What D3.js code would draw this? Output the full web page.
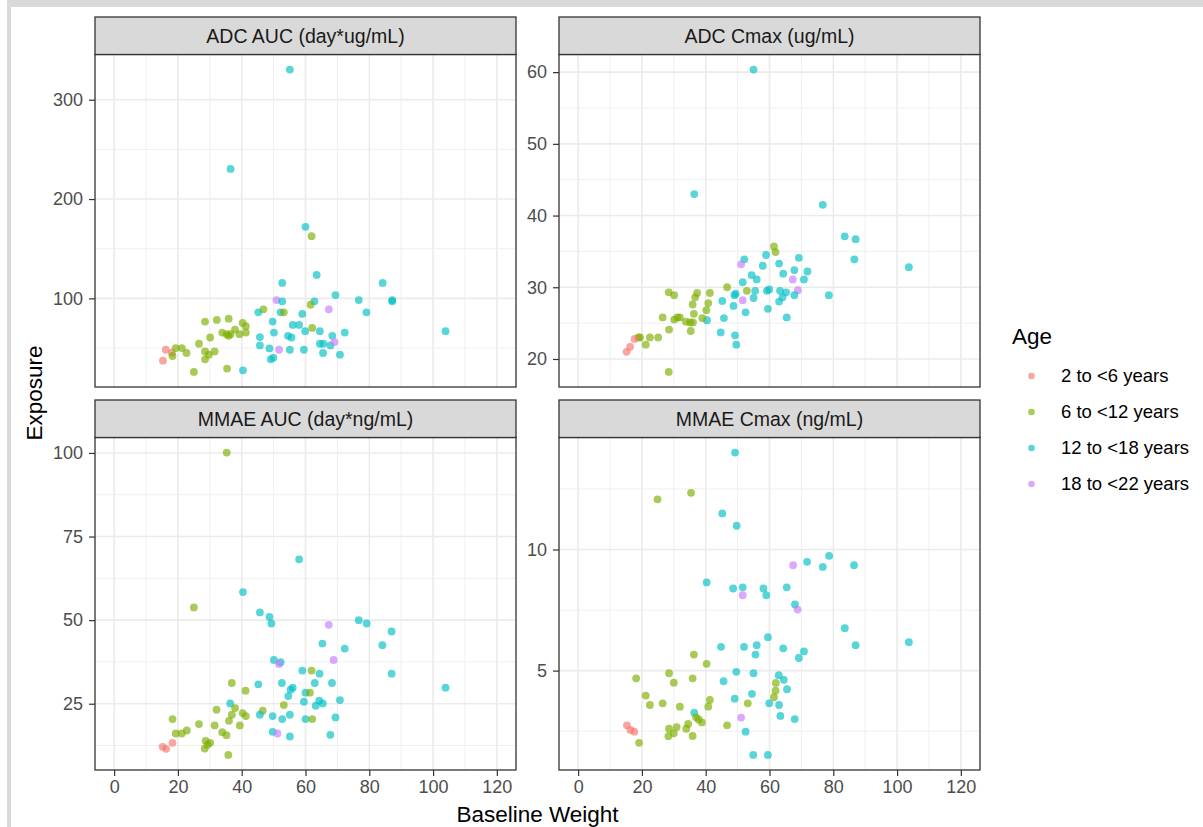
<!DOCTYPE html>
<html>
<head>
<meta charset="utf-8">
<script src="https://cdn.jsdelivr.net/npm/d3@7"></script>
<style>
  body { margin: 0; background: #ffffff; }
  svg { display: block; font-family: "Liberation Sans", Arial, sans-serif; }
</style>
</head>
<body>
<svg id="chart" width="1203" height="827"></svg>
<script>
// Age groups and their default hue colours
const ageGroups = ["2 to <6 years", "6 to <12 years", "12 to <18 years", "18 to <22 years"];
const groupColors = ["#F8766D", "#7CAE00", "#00BFC4", "#C77CFF"];

// Facet titles, in panel order (row by row)
const panelTitles = ["ADC AUC (day*ug/mL)", "ADC Cmax (ug/mL)", "MMAE AUC (day*ng/mL)", "MMAE Cmax (ng/mL)"];

// Each point: [baseline weight (kg), exposure, age group index]
const adcAuc = [
  [63.5,123.6,2],[52.7,115.6,2],[84.2,115.6,2],[69.4,103.3,2],[50.9,98.3,3],[52.7,97.0,2],[62.8,97.0,2],
  [76.7,98.3,2],[87.2,98.3,2],[87.2,97.0,2],[46.8,89.0,1],[45.2,86.0,2],[52.2,86.0,2],[53.2,86.0,1],
  [61.6,93.6,1],[59.0,84.3,2],[67.3,89.0,3],[79.1,86.0,2],[28.5,76.6,1],[32.2,78.3,1],[35.9,79.6,1],
  [40.3,75.3,1],[41.3,72.0,1],[49.7,76.6,2],[56.0,73.3,2],[58.0,73.3,2],[62.1,70.3,1],[59.9,67.0,2],
  [64.5,67.0,2],[72.3,65.6,2],[33.9,65.6,1],[35.3,64.0,1],[36.5,64.0,1],[37.9,68.6,1],[39.3,64.0,1],
  [41.3,65.6,1],[35.9,62.3,1],[50.1,65.6,2],[30.1,60.6,1],[26.6,54.3,1],[45.7,61.0,2],[54.5,62.3,2],
  [55.6,60.6,2],[68.4,62.3,2],[45.7,52.6,2],[48.7,49.6,2],[51.7,48.3,3],[55.1,48.3,2],[59.5,48.3,2],
  [64.5,54.3,2],[65.6,54.3,2],[67.8,52.6,2],[69.1,56.0,3],[65.5,45.0,2],[70.8,43.3,2],[28.5,46.6,1],
  [31.5,46.6,1],[29.7,43.3,1],[28.5,38.6,1],[49.1,38.6,2],[49.9,40.3,2],[25.0,26.0,1],[35.4,29.3,1],
  [40.4,27.6,2],[16.2,48.3,0],[18.1,45.3,0],[15.3,37.3,0],[18.3,42.0,1],[19.3,50.0,1],[21.2,50.0,1],
  [22.7,45.0,1],[55.1,330.3,2],[36.5,230.3,2],[60.0,172.0,2],[61.9,162.6,1],[103.9,67.0,2]
];

const adcCmax = [
  [61.4,35.7,1],[61.9,34.9,1],[52.1,33.9,2],[51.1,33.2,3],[58.9,34.5,2],[69.2,34.1,2],[57.9,33.0,2],
  [63.0,33.3,2],[64.3,31.9,2],[67.8,32.4,2],[71.9,32.2,2],[54.4,31.7,2],[56.0,31.1,2],[51.6,30.7,2],
  [67.3,31.1,3],[70.8,31.1,2],[46.7,30.0,1],[52.9,29.5,1],[49.4,29.1,2],[49.0,28.9,2],[55.5,29.5,2],
  [59.2,29.5,2],[59.9,29.7,2],[63.3,29.5,2],[65.2,29.3,2],[68.9,29.6,3],[67.8,28.9,2],[64.1,28.6,2],
  [63.0,28.0,2],[55.0,28.5,2],[51.6,28.2,3],[78.6,28.9,2],[45.2,28.1,2],[48.7,27.4,2],[52.5,26.5,2],
  [59.5,27.0,2],[65.4,25.8,2],[45.7,25.7,2],[44.7,23.7,2],[49.2,23.3,2],[49.6,22.0,2],[40.4,25.4,2],
  [28.4,29.3,1],[30.1,28.9,1],[37.3,29.2,1],[36.7,28.6,1],[41.3,29.2,1],[40.8,27.8,1],[35.9,27.6,1],
  [36.3,26.3,1],[40.2,26.8,1],[38.9,25.7,1],[26.5,25.8,1],[30.1,25.5,1],[31.1,25.8,1],[31.9,25.8,1],
  [33.8,25.2,1],[35.1,25.1,1],[36.0,25.1,1],[28.5,24.1,1],[35.3,23.9,1],[18.9,23.0,1],[19.4,23.0,1],
  [22.5,23.0,1],[25.1,23.0,1],[21.2,22.0,1],[17.7,22.8,0],[16.3,21.7,0],[15.2,21.0,0],[28.4,18.2,1],
  [55.0,60.35,2],[36.4,43.0,2],[76.7,41.5,2],[83.6,37.1,2],[87.0,36.7,2],[86.6,33.9,2],[103.7,32.8,2]
];

const mmaeAuc = [
  [40.4,58.4,2],[25.0,53.8,1],[45.7,52.3,2],[48.7,51.0,2],[49.3,49.0,2],[67.3,48.6,3],[76.7,50.0,2],
  [79.2,49.0,2],[87.0,46.6,2],[65.3,43.0,2],[72.3,41.5,2],[84.1,42.5,2],[68.8,38.1,3],[50.1,38.1,2],
  [52.2,37.4,2],[51.7,36.9,3],[59.0,34.9,2],[61.9,34.9,1],[64.4,34.0,2],[87.0,34.0,2],[36.9,31.2,1],
  [41.2,28.9,1],[45.2,30.8,2],[52.6,31.2,2],[56.0,29.8,2],[55.3,29.2,2],[62.9,31.2,2],[68.3,31.2,2],
  [60.0,28.3,2],[61.4,28.3,1],[54.6,27.3,2],[59.5,25.6,2],[64.3,25.9,2],[63.2,24.4,2],[65.4,25.1,2],
  [70.8,26.1,2],[53.2,24.6,1],[36.4,25.1,2],[32.1,23.2,1],[37.9,23.7,1],[36.9,21.7,1],[40.3,22.2,1],
  [41.3,21.3,1],[46.6,22.9,1],[45.7,21.7,2],[49.7,21.3,2],[55.1,21.7,2],[52.7,20.4,2],[60.0,20.4,2],
  [62.1,20.4,1],[69.4,20.9,2],[18.3,20.4,1],[26.6,18.9,1],[31.5,18.5,1],[36.0,19.9,1],[39.4,18.5,1],
  [19.3,16.1,1],[21.2,16.1,1],[22.8,17.0,1],[33.9,16.5,1],[35.2,15.6,1],[49.7,16.6,2],[51.2,16.1,3],
  [55.1,15.2,2],[67.8,15.7,2],[28.7,13.9,1],[30.1,13.3,1],[28.4,11.6,1],[29.3,12.7,1],[35.8,9.7,1],
  [15.2,12.1,0],[16.3,11.5,0],[18.3,13.3,0],[35.3,100.1,1],[58.0,68.2,2],[103.9,29.8,2]
];

const mmaeCmax = [
  [68.0,7.73,2],[68.8,7.52,3],[59.5,6.38,2],[44.8,5.98,2],[52.0,5.98,2],[56.0,6.05,2],[55.6,5.66,2],
  [64.3,5.92,2],[70.8,5.79,2],[69.2,5.52,2],[36.3,5.66,1],[40.3,5.28,1],[49.6,4.95,2],[55.0,4.89,2],
  [45.6,4.56,2],[28.5,4.89,1],[30.0,4.50,1],[35.9,4.68,1],[18.2,4.68,1],[62.9,4.81,2],[64.5,4.62,2],
  [62.0,4.49,1],[61.9,4.17,1],[65.5,4.23,2],[61.4,3.90,1],[54.5,4.04,2],[49.1,3.84,2],[21.2,3.97,1],
  [22.5,3.58,1],[26.5,3.65,1],[31.9,3.51,1],[41.3,3.79,1],[40.8,3.51,1],[53.2,3.65,1],[59.9,3.65,2],
  [63.0,3.58,2],[36.4,3.26,2],[37.0,3.07,1],[37.8,2.98,1],[38.8,2.86,1],[34.5,2.80,1],[33.9,2.60,1],
  [28.5,2.60,1],[30.9,2.67,1],[30.0,2.41,1],[28.3,2.29,1],[35.9,2.30,1],[46.7,2.74,1],[51.1,3.06,3],
  [63.4,3.13,2],[67.9,3.00,2],[52.5,2.48,2],[15.3,2.74,0],[16.4,2.55,0],[17.6,2.48,0],[19.1,2.02,1],
  [54.9,1.52,2],[59.5,1.52,2],[49.2,14.0,2],[35.4,12.34,1],[24.9,12.07,1],[45.2,11.49,2],[49.7,10.98,2],
  [40.3,8.64,2],[48.6,8.39,2],[51.6,8.44,2],[51.6,8.11,3],[58.1,8.39,2],[59.0,8.11,2],[65.4,8.44,2],
  [67.4,9.35,3],[71.8,9.49,2],[78.7,9.74,2],[76.7,9.28,2],[86.5,9.35,2],[83.6,6.75,2],[87.0,6.05,2],
  [103.7,6.17,2]
];

// Axis breaks
const xTicks = [0, 20, 40, 60, 80, 100, 120];
const xMinorTicks = [10, 30, 50, 70, 90, 110];
const yTicks = [[100, 200, 300], [20, 30, 40, 50, 60], [25, 50, 75, 100], [5, 10]];
const yMinorTicks = [[50, 150, 250], [25, 35, 45, 55], [12.5, 37.5, 62.5, 87.5], [2.5, 7.5, 12.5]];
const xLimits = [0, 120];

const panelData = [adcAuc, adcCmax, mmaeAuc, mmaeCmax];

// Layout
const svg = d3.select("#chart");
const colX = [95, 559];
const panelW = 421;
const stripTop = [17, 400];
const stripH = 37.5;
const panelH = 332.5;
const tickLen = 6;
const gridCol = "#ebebeb";
const darkCol = "#333333";

// Page frame
svg.append("rect").attr("x", 7).attr("y", 0).attr("width", 1196).attr("height", 7).attr("fill", "#d9d9d9");
svg.append("rect").attr("x", 7).attr("y", 7).attr("width", 4).attr("height", 820).attr("fill", "#d9d9d9");

function expand(lo, hi) {
  const pad = (hi - lo) * 0.05;
  return [lo - pad, hi + pad];
}

panelData.forEach((data, i) => {
  const col = i % 2, row = Math.floor(i / 2);
  const left = colX[col];
  const top = stripTop[row] + stripH;
  const g = svg.append("g");

  const x = d3.scaleLinear().domain(expand(xLimits[0], xLimits[1])).range([left, left + panelW]);
  const yExt = d3.extent(data, d => d[1]);
  const y = d3.scaleLinear().domain(expand(yExt[0], yExt[1])).range([top + panelH, top]);

  // grid
  const grid = g.append("g");
  grid.selectAll(".xmin").data(xMinorTicks).join("line")
    .attr("x1", d => x(d)).attr("x2", d => x(d)).attr("y1", top).attr("y2", top + panelH)
    .attr("stroke", gridCol).attr("stroke-width", 0.8);
  grid.selectAll(".ymin").data(yMinorTicks[i]).join("line")
    .attr("x1", left).attr("x2", left + panelW).attr("y1", d => y(d)).attr("y2", d => y(d))
    .attr("stroke", gridCol).attr("stroke-width", 0.8);
  grid.selectAll(".xmaj").data(xTicks).join("line")
    .attr("x1", d => x(d)).attr("x2", d => x(d)).attr("y1", top).attr("y2", top + panelH)
    .attr("stroke", gridCol).attr("stroke-width", 1.6);
  grid.selectAll(".ymaj").data(yTicks[i]).join("line")
    .attr("x1", left).attr("x2", left + panelW).attr("y1", d => y(d)).attr("y2", d => y(d))
    .attr("stroke", gridCol).attr("stroke-width", 1.6);

  // points
  g.append("g").selectAll("circle").data(data).join("circle")
    .attr("cx", d => x(d[0])).attr("cy", d => y(d[1])).attr("r", 3.9)
    .attr("fill", d => groupColors[d[2]]).attr("fill-opacity", 0.66);

  // panel border
  g.append("rect").attr("x", left).attr("y", top).attr("width", panelW).attr("height", panelH)
    .attr("fill", "none").attr("stroke", darkCol).attr("stroke-width", 1.3);

  // strip
  g.append("rect").attr("x", left).attr("y", stripTop[row]).attr("width", panelW).attr("height", stripH)
    .attr("fill", "#d9d9d9").attr("stroke", darkCol).attr("stroke-width", 1.3);
  g.append("text").attr("x", left + panelW / 2).attr("y", stripTop[row] + stripH / 2)
    .attr("dy", "0.35em").attr("text-anchor", "middle").attr("font-size", 19.5).attr("fill", "#1a1a1a")
    .text(panelTitles[i]);

  // y axis
  const yAxis = d3.axisLeft(y).tickValues(yTicks[i]).tickSize(tickLen).tickPadding(6);
  const ya = g.append("g").attr("transform", `translate(${left},0)`).call(yAxis);
  ya.select(".domain").remove();
  ya.selectAll(".tick line").attr("stroke", darkCol).attr("stroke-width", 1.2);
  ya.selectAll(".tick text").attr("fill", "#4d4d4d").attr("font-size", 18)
    .attr("font-family", "Liberation Sans, Arial, sans-serif");

  // x axis only on the bottom row
  if (row === 1) {
    const xAxis = d3.axisBottom(x).tickValues(xTicks).tickSize(tickLen).tickPadding(4);
    const xa = g.append("g").attr("transform", `translate(0,${top + panelH})`).call(xAxis);
    xa.select(".domain").remove();
    xa.selectAll(".tick line").attr("stroke", darkCol).attr("stroke-width", 1.2);
    xa.selectAll(".tick text").attr("fill", "#4d4d4d").attr("font-size", 18)
      .attr("font-family", "Liberation Sans, Arial, sans-serif");
  }
});

// Axis titles
svg.append("text").attr("x", (colX[0] + colX[1] + panelW) / 2).attr("y", 822)
  .attr("text-anchor", "middle").attr("font-size", 22.5).attr("fill", "#000").text("Baseline Weight");
svg.append("text").attr("transform", "translate(42,393) rotate(-90)")
  .attr("text-anchor", "middle").attr("font-size", 22.5).attr("fill", "#000").text("Exposure");

// Legend
const legend = svg.append("g");
legend.append("text").attr("x", 1012).attr("y", 344).attr("font-size", 22.5).attr("fill", "#000").text("Age");
const items = legend.selectAll(".item").data(ageGroups).join("g")
  .attr("transform", (d, i) => `translate(0,${376 + i * 36})`);
items.append("circle").attr("cx", 1031.5).attr("cy", 0).attr("r", 3.3)
  .attr("fill", (d, i) => groupColors[i]).attr("fill-opacity", 0.66);
items.append("text").attr("x", 1061).attr("y", 0).attr("dy", "0.35em")
  .attr("font-size", 18.5).attr("fill", "#000").text(d => d);
</script>
</body>
</html>
